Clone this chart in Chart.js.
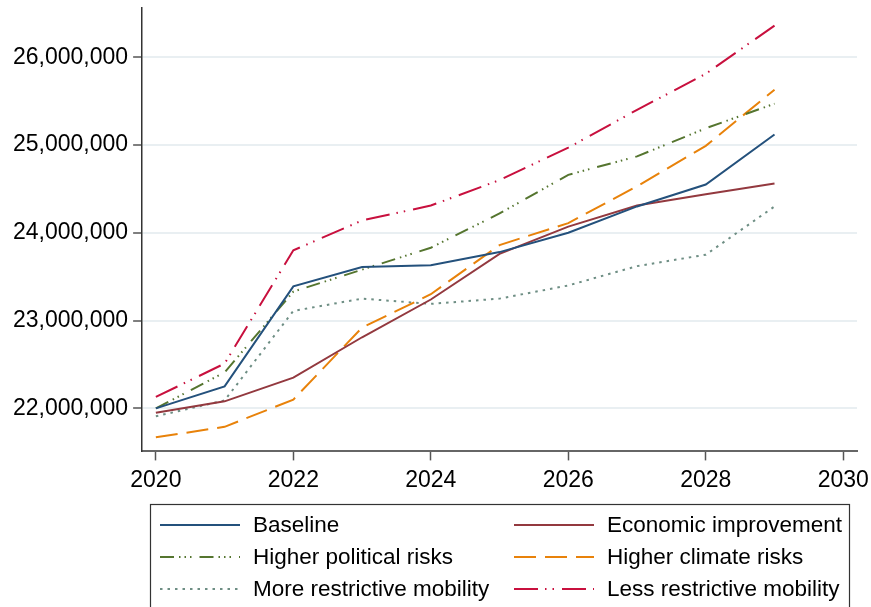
<!DOCTYPE html>
<html>
<head>
<meta charset="utf-8">
<script src="https://cdn.jsdelivr.net/npm/chart.js@4"></script>
<style>
  html, body { margin: 0; padding: 0; background: #fff; }
  #wrap { width: 871px; height: 607px; }
</style>
</head>
<body>
<div id="wrap"><canvas id="chart" width="871" height="607"></canvas></div>
<script>
// Scenario projections, 2020-2029
const years = [2020, 2021, 2022, 2023, 2024, 2025, 2026, 2027, 2028, 2029];
const baseline = [22000000, 22250000, 23390000, 23610000, 23630000, 23780000, 24000000, 24300000, 24550000, 25120000];
const economicImprovement = [21950000, 22080000, 22350000, 22810000, 23240000, 23760000, 24070000, 24310000, 24440000, 24560000];
const higherPolitical = [22000000, 22410000, 23330000, 23580000, 23830000, 24220000, 24660000, 24870000, 25190000, 25470000];
const higherClimate = [21670000, 21790000, 22100000, 22920000, 23300000, 23860000, 24110000, 24530000, 24990000, 25630000];
const moreRestrictive = [21910000, 22090000, 23110000, 23250000, 23190000, 23250000, 23400000, 23620000, 23750000, 24300000];
const lessRestrictive = [22130000, 22510000, 23800000, 24140000, 24310000, 24600000, 24970000, 25400000, 25810000, 26360000];

const seriesNames = ['Baseline', 'Economic improvement', 'Higher political risks',
  'Higher climate risks', 'More restrictive mobility', 'Less restrictive mobility'];
const yTicks = [22000000, 23000000, 24000000, 25000000, 26000000];
const xTicks = [2020, 2022, 2024, 2026, 2028, 2030];

const FONT = '"Liberation Sans", Arial, sans-serif';

function toPoints(values) {
  return years.map((yr, i) => ({ x: yr, y: values[i] }));
}

const styles = [
  { color: '#24517c', dash: [] },
  { color: '#93393f', dash: [] },
  { color: '#55752f', dash: [14, 5, 1.5, 4, 1.5, 4, 1.5, 8] },
  { color: '#e8820a', dash: [22, 9] },
  { color: '#6e8e84', dash: [2.5, 5] },
  { color: '#c8103e', dash: [24, 7, 1.5, 6, 1.5, 8] },
];

const allValues = [baseline, economicImprovement, higherPolitical, higherClimate, moreRestrictive, lessRestrictive];

const datasets = allValues.map((vals, i) => ({
  label: seriesNames[i],
  data: toPoints(vals),
  borderColor: styles[i].color,
  backgroundColor: styles[i].color,
  borderDash: styles[i].dash,
  borderWidth: 2,
  pointRadius: 0,
  tension: 0,
  fill: false,
}));

// two-column boxed legend under the plot, like the Stata export
const boxLegend = {
  id: 'boxLegend',
  afterDraw(chart) {
    const ctx = chart.ctx;
    ctx.save();
    ctx.strokeStyle = '#333';
    ctx.lineWidth = 1.2;
    ctx.strokeRect(150.5, 504.5, 699, 130);
    const rows = [525, 557, 589];
    const cols = [{ x0: 160, x1: 240, tx: 253 }, { x0: 514, x1: 594, tx: 607 }];
    ctx.font = '22.5px ' + FONT;
    ctx.textBaseline = 'middle';
    chart.data.datasets.forEach((ds, i) => {
      const c = cols[i % 2];
      const y = rows[Math.floor(i / 2)];
      ctx.beginPath();
      ctx.setLineDash(ds.borderDash || []);
      ctx.strokeStyle = ds.borderColor;
      ctx.lineWidth = 2;
      ctx.moveTo(c.x0, y);
      ctx.lineTo(c.x1, y);
      ctx.stroke();
      ctx.setLineDash([]);
      ctx.fillStyle = '#000';
      ctx.fillText(ds.label, c.tx, y + 1);
    });
    ctx.restore();
  }
};

new Chart(document.getElementById('chart'), {
  type: 'line',
  data: { datasets },
  plugins: [boxLegend],
  options: {
    responsive: false,
    animation: false,
    layout: { padding: { left: 8, top: 8, right: 14, bottom: 107 } },
    plugins: {
      legend: { display: false },
      tooltip: { enabled: false },
    },
    scales: {
      x: {
        type: 'linear',
        min: 2019.8,
        max: 2030.2,
        afterBuildTicks: (axis) => { axis.ticks = xTicks.map((v) => ({ value: v })); },
        afterFit: (axis) => { axis.paddingLeft = 0; axis.paddingRight = 0; },
        grid: {
          drawOnChartArea: false,
          tickLength: 9,
          tickColor: '#555',
          tickWidth: 1.5,
        },
        border: { display: true, color: '#666', width: 2 },
        ticks: {
          color: '#000',
          padding: 6,
          maxRotation: 0,
          font: { family: FONT, size: 23 },
          callback: (v) => String(v),
        },
      },
      y: {
        min: 21510000,
        max: 26560000,
        afterBuildTicks: (axis) => { axis.ticks = yTicks.map((v) => ({ value: v })); },
        afterFit: (axis) => { axis.paddingTop = 0; axis.paddingBottom = 0; },
        grid: {
          color: '#e9eff2',
          lineWidth: 2,
          tickLength: 9,
          tickColor: '#555',
          tickWidth: 1.5,
        },
        border: { display: true, color: '#333', width: 1.5 },
        ticks: {
          color: '#000',
          padding: 5,
          font: { family: FONT, size: 23 },
          callback: (v) => v.toLocaleString('en-US'),
        },
      },
    },
  },
});
</script>
</body>
</html>
